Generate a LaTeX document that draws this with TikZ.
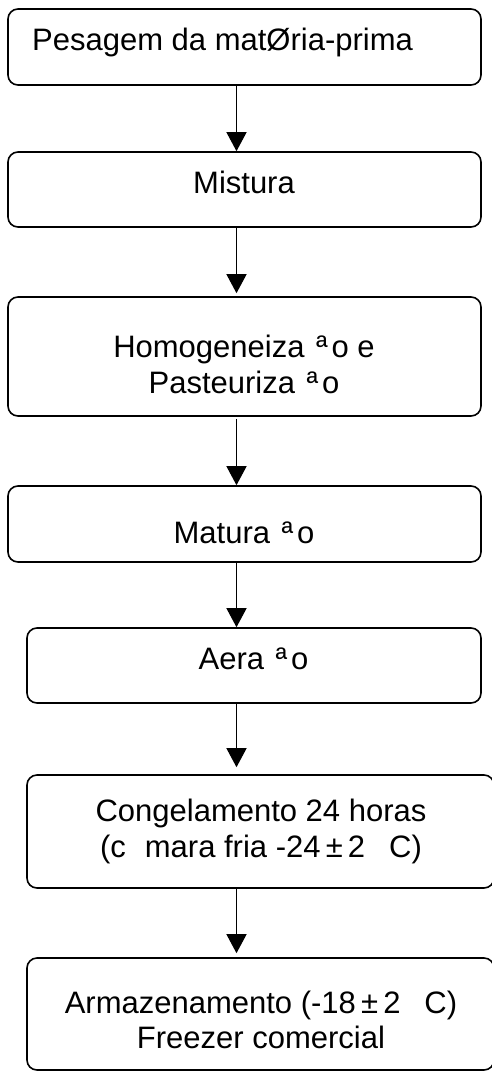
\documentclass[tikz,border=0pt]{standalone}
\usepackage{fontspec}
\setmainfont{Liberation Sans}
\usetikzlibrary{arrows.meta}
\newcommand{\ordgap}{\kern3pt ª\kern4pt}
\tikzset{
  stage/.style={draw=black, line width=1.6pt, rounded corners=10pt, rectangle, inner sep=0pt},
  lbl/.style={inner sep=0pt, align=center, font=\fontsize{31}{36}\selectfont},
  arr/.style={line width=1.3pt, -{Triangle[width=20pt,length=19pt]}}
}
\begin{document}
\begin{tikzpicture}[x=1pt,y=-1pt]
\useasboundingbox (0,0) rectangle (492,1072);
% boxes
\node[stage, minimum width=473pt, minimum height=76pt] (b1) at (244.5,47) {};
\node[stage, minimum width=473pt, minimum height=75pt] (b2) at (244.5,189.5) {};
\node[stage, minimum width=473pt, minimum height=119pt] (b3) at (244.5,356.5) {};
\node[stage, minimum width=473pt, minimum height=76pt] (b4) at (244.5,524) {};
\node[stage, minimum width=454pt, minimum height=75pt] (b5) at (254,665.5) {};
\node[stage, minimum width=467pt, minimum height=113pt] (b6) at (260.5,831.5) {};
\node[stage, minimum width=467pt, minimum height=112pt] (b7) at (260.5,1014) {};
% texts
\node[lbl, anchor=base west] (t1) at (32,50) {Pesagem da matØria-prima};
\node[lbl, anchor=base] (t2) at (244,193) {Mistura};
\node[lbl, anchor=base] (t3a) at (244,357) {Homogeneiza \ordgap o e};
\node[lbl, anchor=base] (t3b) at (244,393) {Pasteuriza \ordgap o};
\node[lbl, anchor=base] (t4) at (244,543) {Matura \ordgap o};
\node[lbl, anchor=base] (t5) at (253.5,669) {Aera \ordgap o};
\node[lbl, anchor=base] (t6a) at (261,821) {Congelamento 24 horas};
\node[lbl, anchor=base] (t6b) at (261,857) {(c\hspace{19pt}mara fria -24\,±\,2\hspace{24pt}C)};
\node[lbl, anchor=base] (t7a) at (261,1013) {Armazenamento (-18\,±\,2\hspace{24pt}C)};
\node[lbl, anchor=base] (t7b) at (261,1048) {Freezer comercial};
% connectors
\coordinate (ax) at (236.5,0);
\draw[arr] (b1.south -| ax) -- (b2.north -| ax);
\draw[arr, shorten >=3pt] (b2.south -| ax) -- (b3.north -| ax);
\draw[arr, shorten <=2pt] (b3.south -| ax) -- (b4.north -| ax);
\draw[arr] (b4.south -| ax) -- (b5.north -| ax);
\draw[arr, shorten >=7pt] (b5.south -| ax) -- (b6.north -| ax);
\draw[arr, shorten >=4pt] (b6.south -| ax) -- (b7.north -| ax);
\end{tikzpicture}
\end{document}
